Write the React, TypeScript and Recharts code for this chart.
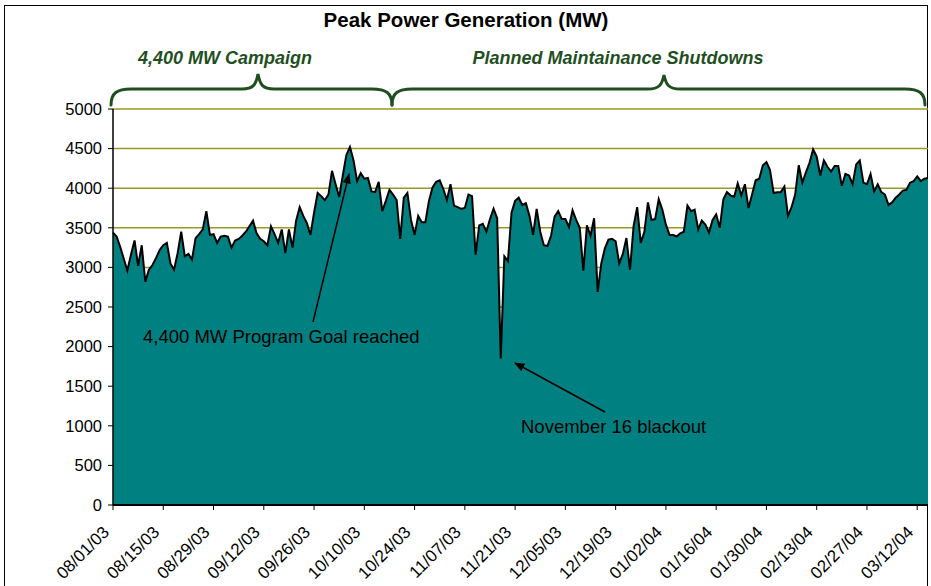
import React from "react";
import { AreaChart, Area, XAxis, YAxis, CartesianGrid } from "recharts";

// Daily peak generation, 08/01/03 .. 03/15/04 (MW)
const PEAK_MW = [
  3440, 3390, 3260, 3110, 2960, 3160, 3340, 3020, 3280, 2820,
  2970, 3030, 3120, 3220, 3280, 3310, 3050, 2970, 3180, 3450,
  3140, 3170, 3100, 3370, 3420, 3480, 3710, 3410, 3420, 3310,
  3390, 3400, 3390, 3250, 3340, 3360, 3400, 3450, 3520, 3590,
  3430, 3360, 3330, 3280, 3520, 3420, 3310, 3480, 3180, 3480,
  3250, 3590, 3760, 3650, 3560, 3410, 3690, 3940, 3900, 3850,
  3920, 4220, 4050, 3890, 4160, 4420, 4520, 4350, 4090, 4190,
  4120, 4130, 3960, 3950, 4080, 3710, 3840, 3980, 3920, 3850,
  3360, 3880, 3940, 3600, 3410, 3650, 3570, 3570, 3840, 4010,
  4080, 4100, 3990, 3850, 4050, 3780, 3760, 3740, 3750, 3920,
  3900, 3160, 3530, 3550, 3450, 3610, 3740, 3620, 1850, 3140,
  3080, 3690, 3840, 3880, 3790, 3810, 3650, 3410, 3740, 3450,
  3280, 3270, 3400, 3640, 3710, 3610, 3610, 3510, 3720, 3600,
  3500, 2960, 3530, 3400, 3620, 2690, 3050, 3240, 3350, 3360,
  3330, 3050, 3170, 3370, 2970, 3520, 3760, 3310, 3450, 3820,
  3600, 3610, 3860, 3730, 3540, 3410, 3410, 3390, 3430, 3450,
  3780, 3710, 3730, 3480, 3590, 3540, 3440, 3600, 3670, 3500,
  3860, 3950, 3910, 3890, 4060, 3910, 4050, 3750, 3920, 4100,
  4120, 4290, 4330, 4230, 3940, 3950, 3950, 4020, 3650, 3760,
  3920, 4290, 4070, 4200, 4320, 4490, 4400, 4160, 4350, 4270,
  4210, 4280, 4280, 4030, 4180, 4160, 4050, 4300, 4350, 4070,
  4050, 4180, 3960, 4050, 3950, 3920, 3790, 3820, 3880, 3920,
  3970, 3980, 4070, 4090, 4150, 4090, 4120, 4130,
];

const START_DATE = Date.UTC(2003, 7, 1);
const Y_TICKS = [0, 500, 1000, 1500, 2000, 2500, 3000, 3500, 4000, 4500, 5000];
const X_TICKS = [
  "08/01/03", "08/15/03", "08/29/03", "09/12/03", "09/26/03", "10/10/03",
  "10/24/03", "11/07/03", "11/21/03", "12/05/03", "12/19/03", "01/02/04",
  "01/16/04", "01/30/04", "02/13/04", "02/27/04", "03/12/04",
];

const TITLE = "Peak Power Generation (MW)";
const PHASES = ["4,400 MW Campaign", "Planned Maintainance Shutdowns"];
const NOTES = ["4,400 MW Program Goal reached", "November 16 blackout"];

const pad = (n: number) => String(n).padStart(2, "0");
const fmt = (t: number) => {
  const d = new Date(t);
  return `${pad(d.getUTCMonth() + 1)}/${pad(d.getUTCDate())}/${pad(d.getUTCFullYear() % 100)}`;
};

const data = PEAK_MW.map((mw, i) => ({ date: fmt(START_DATE + i * 86400000), mw }));

const FONT = "'Liberation Sans', Arial, sans-serif";
const TEAL = "#008080";
const GRID = "#999922";
const GREEN = "#1f4f1f";

const DateTick = (props: any) => {
  const { x, y, payload } = props;
  return (
    <g transform={`translate(${x - 7},${y + 17}) rotate(-45)`}>
      <text x={0} y={0} dy="0.35em" textAnchor="end" fontSize={17} fill="#000" fontFamily={FONT}>
        {payload.value}
      </text>
    </g>
  );
};

export default function App() {
  return (
    <div style={{ position: "relative", width: 931, height: 586, background: "#fff", overflow: "hidden" }}>
      <style>{`body{margin:0}`}</style>
      <div
        style={{
          position: "absolute",
          left: 4,
          top: 5,
          width: 924,
          height: 600,
          border: "1.5px solid #000",
          boxSizing: "border-box",
        }}
      />
      <div style={{ position: "absolute", left: 0, top: 0 }}>
        <AreaChart width={931} height={586} data={data} margin={{ top: 109, right: 3, left: 0, bottom: 0 }}>
          <CartesianGrid vertical={false} stroke={GRID} strokeWidth={1.5} />
          <XAxis
            dataKey="date"
            ticks={X_TICKS}
            interval={0}
            height={81}
            tick={<DateTick />}
            tickSize={5}
            axisLine={{ stroke: "#000", strokeWidth: 2 }}
            tickLine={{ stroke: "#000" }}
          />
          <YAxis
            domain={[0, 5000]}
            ticks={Y_TICKS}
            width={113}
            tickSize={5}
            tickMargin={6}
            axisLine={{ stroke: "#000", strokeWidth: 1.5 }}
            tickLine={{ stroke: "#000" }}
            tick={{ fontSize: 16.5, fill: "#000", fontFamily: FONT }}
          />
          <Area
            type="linear"
            dataKey="mw"
            stroke="#000"
            strokeWidth={2}
            fill={TEAL}
            fillOpacity={1}
            isAnimationActive={false}
          />
        </AreaChart>
      </div>
      <svg width={931} height={586} style={{ position: "absolute", left: 0, top: 0, pointerEvents: "none" }}>
        <defs>
          <marker id="arrow" viewBox="0 0 10 10" refX="9" refY="5" markerWidth="7" markerHeight="7" orient="auto">
            <path d="M0,1 L10,5 L0,9 z" fill="#000" />
          </marker>
        </defs>
        <text x={466} y={27} textAnchor="middle" fontSize={20.5} fontWeight="bold" fontFamily={FONT}>
          {TITLE}
        </text>
        <g fill={GREEN} fontSize={18} fontWeight="bold" fontStyle="italic" fontFamily={FONT} textAnchor="middle">
          <text x={225} y={64}>{PHASES[0]}</text>
          <text x={618} y={64}>{PHASES[1]}</text>
        </g>
        <g fill="none" stroke={GREEN} strokeWidth={3} strokeLinecap="round">
          <path d="M 111 105 C 111 93, 117 89, 131 89 L 242 89 C 253 89, 256 85, 258 74 C 260 85, 263 89, 274 89 L 372 89 C 386 89, 392 93, 392 105" />
          <path d="M 392 105 C 392 93, 398 89, 412 89 L 648 89 C 659 89, 662 85, 664 75 C 666 85, 669 89, 680 89 L 905 89 C 919 89, 925 93, 925 105" />
        </g>
        <g fontSize={18.5} fontFamily={FONT} fill="#000">
          <text x={143} y={343}>{NOTES[0]}</text>
          <text x={521} y={433}>{NOTES[1]}</text>
        </g>
        <g stroke="#000" strokeWidth={1.5}>
          <line x1={313} y1={322} x2={349} y2={174} markerEnd="url(#arrow)" />
          <line x1={605} y1={412} x2={515} y2={363} markerEnd="url(#arrow)" />
        </g>
      </svg>
    </div>
  );
}
